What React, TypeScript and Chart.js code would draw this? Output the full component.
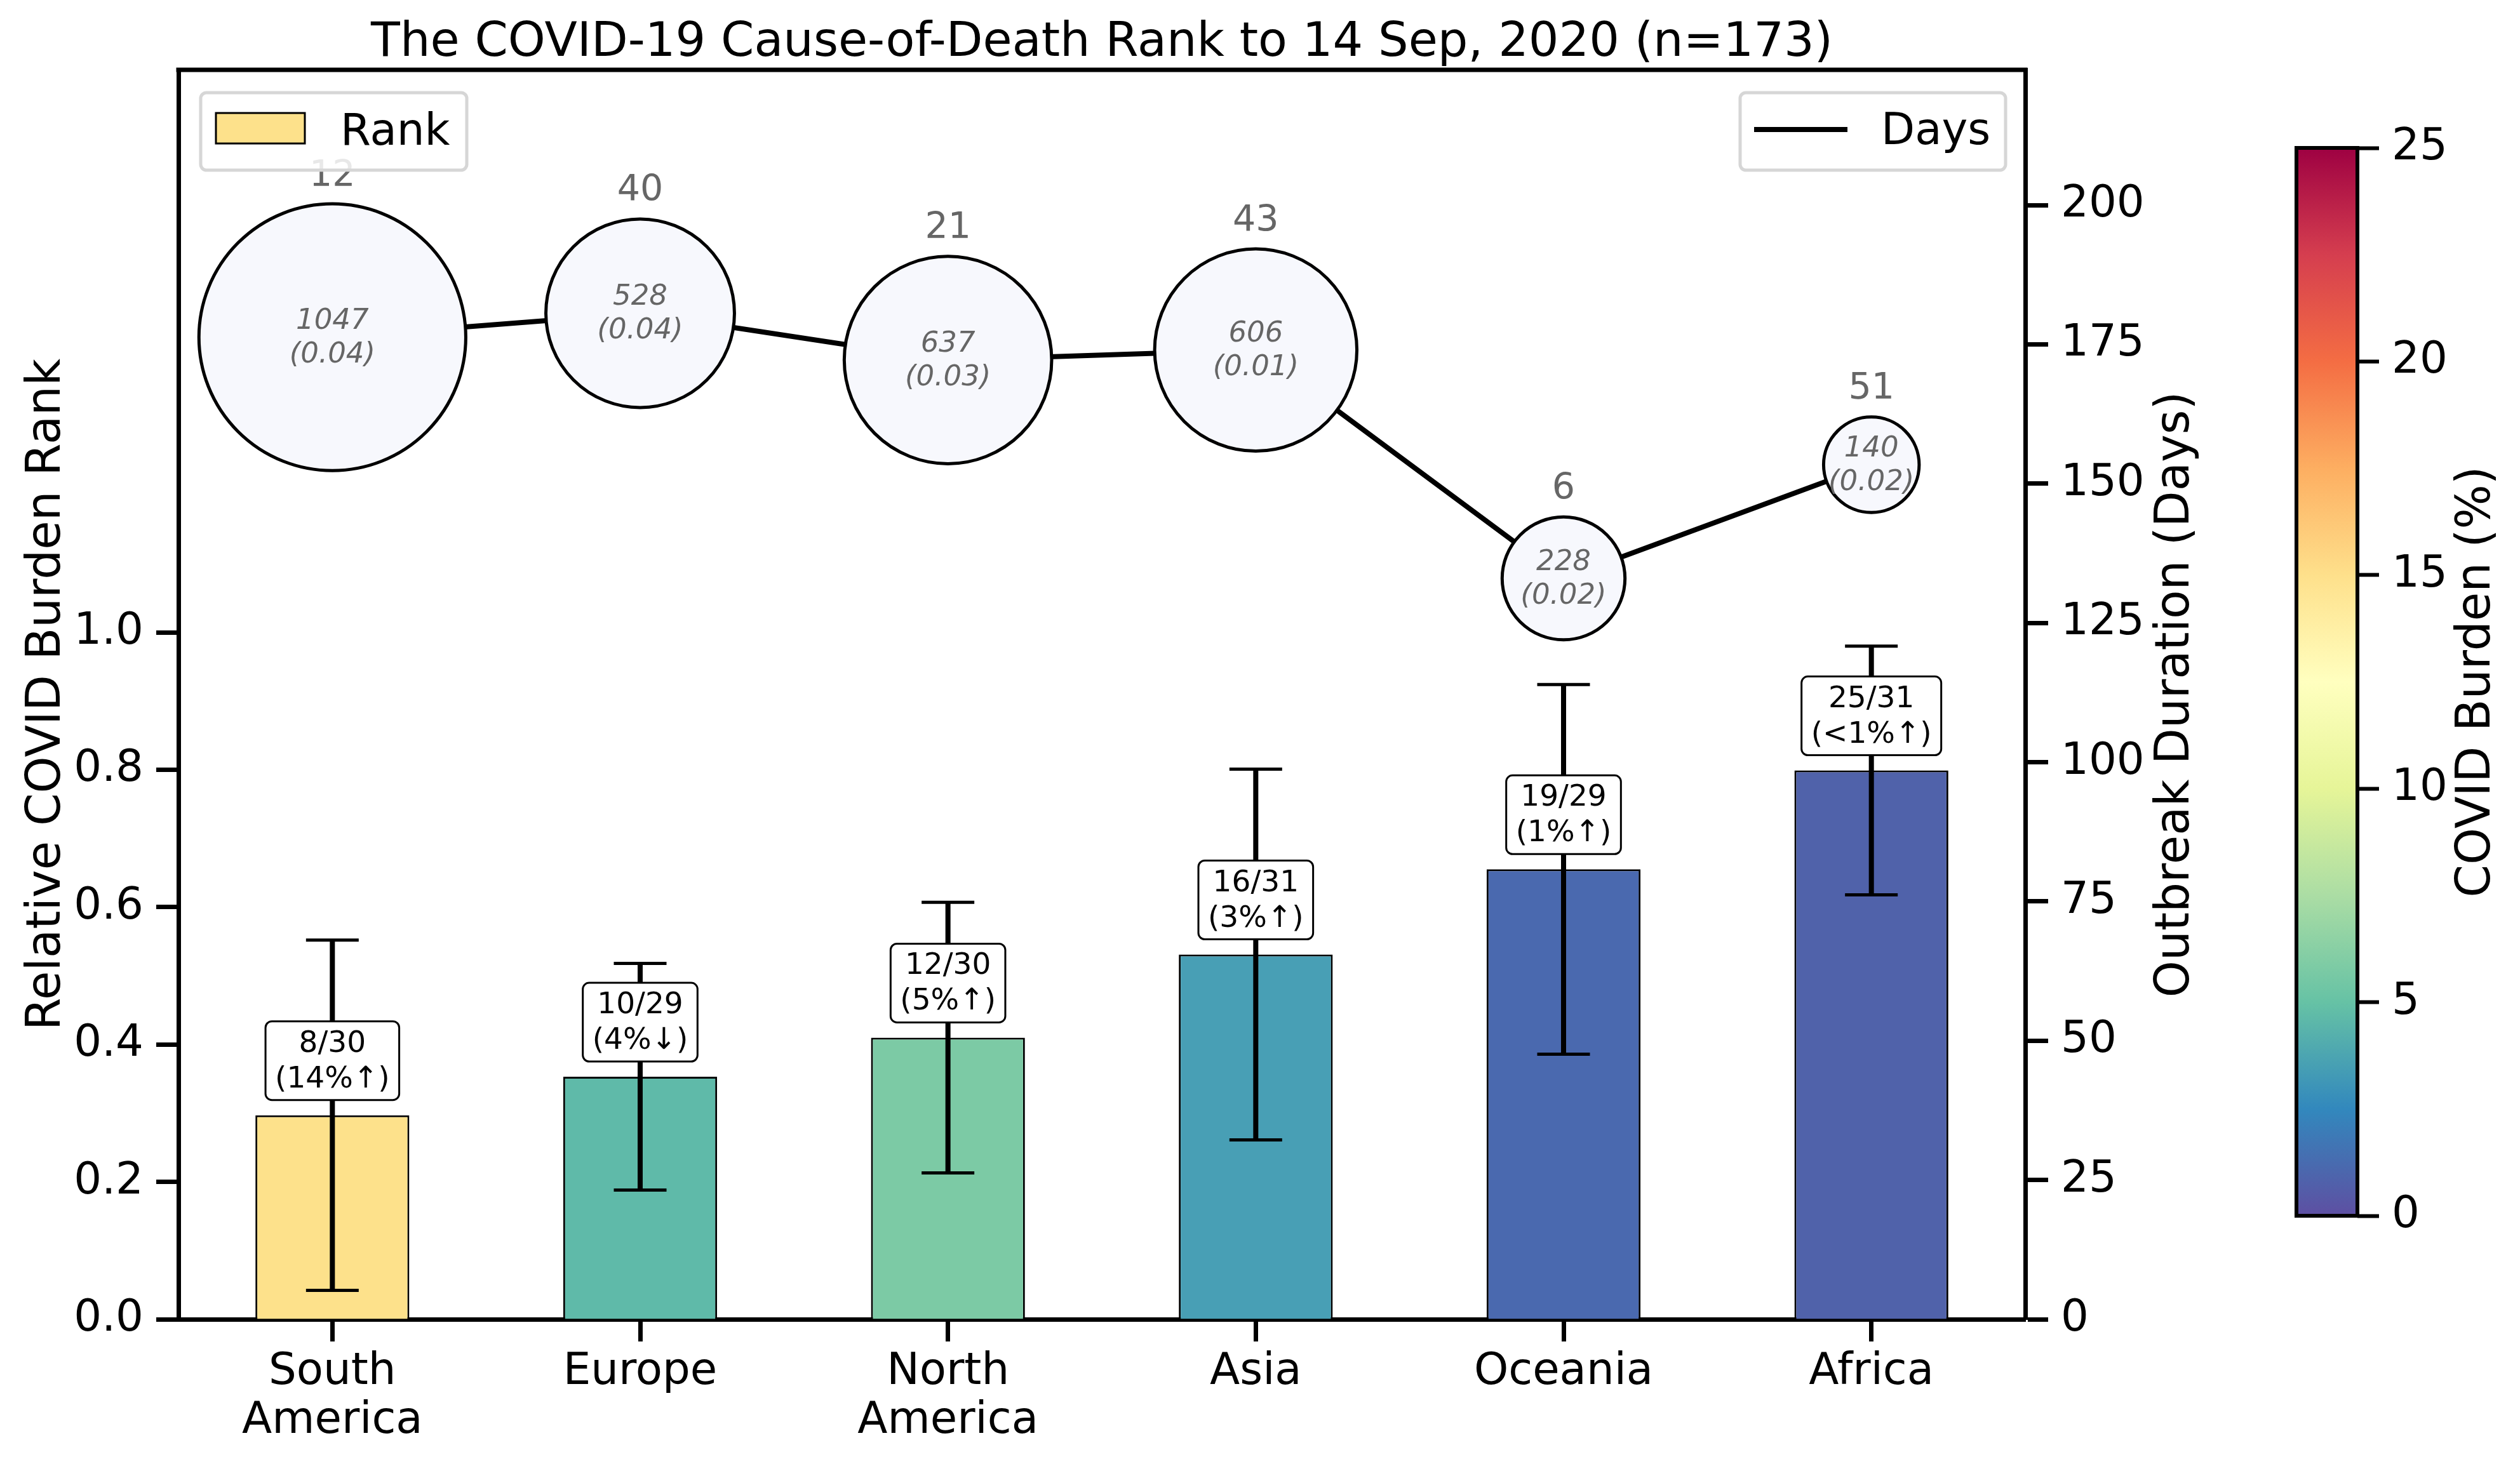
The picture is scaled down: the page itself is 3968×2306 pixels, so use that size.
import { useEffect, useRef } from 'react';
import { Chart, registerables } from 'chart.js';

Chart.register(...registerables);

const FONT = "'DejaVu Sans', sans-serif";
Chart.defaults.font.family = FONT;

// chart data
const chartTitle = 'The COVID-19 Cause-of-Death Rank to 14 Sep, 2020 (n=173)';
const regions = [['South', 'America'], 'Europe', ['North', 'America'], 'Asia', 'Oceania', 'Africa'];
const relativeRank = [0.297, 0.353, 0.41, 0.531, 0.655, 0.799];
const rankError = [0.255, 0.165, 0.197, 0.27, 0.269, 0.181];
const rankText = ['8/30', '10/29', '12/30', '16/31', '19/29', '25/31'];
const burdenChange = ['(14%↑)', '(4%↓)', '(5%↑)', '(3%↑)', '(1%↑)', '(<1%↑)'];
const barColors = ['#fde18b', '#5fbaa9', '#7ccaa5', '#489fb5', '#4a69af', '#5062aa'];
const outbreakDays = [176.3, 180.6, 172.2, 174.0, 133.0, 153.4];
const rankAbove = [12, 40, 21, 43, 6, 51];
const covidDeaths = [1047, 528, 637, 606, 228, 140];
const deathShare = ['0.04', '0.04', '0.03', '0.01', '0.02', '0.02'];
const rankTicks = [0, 0.2, 0.4, 0.6, 0.8, 1.0];
const dayTicks = [0, 25, 50, 75, 100, 125, 150, 175, 200];
const burdenTicks = [0, 5, 10, 15, 20, 25];
// Spectral_r, bottom (0%) to top (25%)
const spectral = ['#5e4fa2', '#3288bd', '#66c2a5', '#abdda4', '#e6f598', '#ffffbf', '#fee08b', '#fdae61', '#f46d43', '#d53e4f', '#9e0142'];

const MAIN_W = 3560;
const CB_LEFT = 3480;
const CB_W = 3968 - CB_LEFT;
const H = 2306;

const bubbleOuter = (v: number) => 6.57 * Math.sqrt(v);

const axisStyle = {
  grid: { drawOnChartArea: false, drawTicks: true, tickLength: 35, tickWidth: 7, tickColor: '#000' },
  border: { display: true, color: '#000', width: 7 },
};

const mainPlugin = {
  id: 'mainExtras',
  afterDatasetsDraw(chart: any) {
    const { ctx, chartArea } = chart;
    const xs = chart.scales.x;
    const ys = chart.scales.y;
    const y1 = chart.scales.y1;
    ctx.save();

    // title
    ctx.fillStyle = '#000';
    ctx.font = `75px ${FONT}`;
    ctx.textAlign = 'center';
    ctx.textBaseline = 'alphabetic';
    ctx.fillText(chartTitle, (chartArea.left + chartArea.right) / 2, 88);

    // top spine
    ctx.strokeStyle = '#000';
    ctx.lineWidth = 7;
    ctx.beginPath();
    ctx.moveTo(chartArea.left - 3.5, chartArea.top);
    ctx.lineTo(chartArea.right + 3.5, chartArea.top);
    ctx.stroke();

    // error bars
    relativeRank.forEach((v, i) => {
      const x = xs.getPixelForValue(i);
      const hi = ys.getPixelForValue(v + rankError[i]);
      const lo = ys.getPixelForValue(v - rankError[i]);
      ctx.lineWidth = 8;
      ctx.beginPath();
      ctx.moveTo(x, hi);
      ctx.lineTo(x, lo);
      ctx.stroke();
      ctx.lineWidth = 5;
      ctx.beginPath();
      ctx.moveTo(x - 41.5, hi);
      ctx.lineTo(x + 41.5, hi);
      ctx.moveTo(x - 41.5, lo);
      ctx.lineTo(x + 41.5, lo);
      ctx.stroke();
    });

    // rank label boxes
    ctx.font = `47px ${FONT}`;
    relativeRank.forEach((v, i) => {
      const x = xs.getPixelForValue(i);
      const bottom = ys.getPixelForValue(v) - 24;
      const w = Math.max(ctx.measureText(rankText[i]).width, ctx.measureText(burdenChange[i]).width) + 30;
      const h = 124;
      ctx.beginPath();
      ctx.roundRect(x - w / 2, bottom - h, w, h, 10);
      ctx.fillStyle = '#fff';
      ctx.fill();
      ctx.lineWidth = 3;
      ctx.strokeStyle = '#000';
      ctx.stroke();
      ctx.fillStyle = '#000';
      ctx.fillText(rankText[i], x, bottom - 76);
      ctx.fillText(burdenChange[i], x, bottom - 20);
    });

    // bubble annotations
    outbreakDays.forEach((d, i) => {
      const x = xs.getPixelForValue(i);
      const cy = y1.getPixelForValue(d);
      const r = bubbleOuter(covidDeaths[i]);
      ctx.fillStyle = '#666';
      ctx.font = `57px ${FONT}`;
      ctx.fillText(String(rankAbove[i]), x, cy - r - 26);
      ctx.font = `italic 45px ${FONT}`;
      ctx.fillText(String(covidDeaths[i]), x, cy - 13);
      ctx.fillText(`(${deathShare[i]})`, x, cy + 40);
    });

    // legends
    const legendBox = (x: number, y: number, w: number, h: number) => {
      ctx.beginPath();
      ctx.roundRect(x, y, w, h, 9);
      ctx.fillStyle = 'rgba(255,255,255,0.85)';
      ctx.fill();
      ctx.strokeStyle = '#d6d6d6';
      ctx.lineWidth = 5;
      ctx.stroke();
    };
    ctx.font = `69px ${FONT}`;
    ctx.textAlign = 'left';
    const lt = chartArea.top + 36;
    legendBox(chartArea.left + 35, lt, 419, 122);
    ctx.fillStyle = barColors[0];
    ctx.fillRect(chartArea.left + 59, lt + 32, 140, 48);
    ctx.strokeStyle = '#000';
    ctx.lineWidth = 3;
    ctx.strokeRect(chartArea.left + 59, lt + 32, 140, 48);
    ctx.fillStyle = '#000';
    ctx.fillText('Rank', chartArea.left + 255, lt + 82);

    legendBox(chartArea.right - 449, lt, 418, 122);
    ctx.strokeStyle = '#000';
    ctx.lineWidth = 8;
    ctx.beginPath();
    ctx.moveTo(chartArea.right - 427, lt + 58);
    ctx.lineTo(chartArea.right - 280, lt + 58);
    ctx.stroke();
    ctx.fillStyle = '#000';
    ctx.fillText('Days', chartArea.right - 227, lt + 81);

    // axis titles (both read bottom to top, as in the reference)
    ctx.font = `74px ${FONT}`;
    ctx.textAlign = 'center';
    const midY = (chartArea.top + chartArea.bottom) / 2;
    const vText = (t: string, x: number) => {
      ctx.save();
      ctx.translate(x, midY);
      ctx.rotate(-Math.PI / 2);
      ctx.fillText(t, 0, 0);
      ctx.restore();
    };
    vText('Relative COVID Burden Rank', 94);
    vText('Outbreak Duration (Days)', 3446);
    ctx.restore();
  },
};

const colorbarPlugin = {
  id: 'colorbarExtras',
  afterDatasetsDraw(chart: any) {
    const { ctx, chartArea } = chart;
    ctx.save();
    ctx.strokeStyle = '#000';
    ctx.lineWidth = 6;
    ctx.strokeRect(chartArea.left, chartArea.top, chartArea.right - chartArea.left, chartArea.bottom - chartArea.top);
    ctx.fillStyle = '#000';
    ctx.font = `74px ${FONT}`;
    ctx.textAlign = 'center';
    ctx.translate(440, (chartArea.top + chartArea.bottom) / 2);
    ctx.rotate(-Math.PI / 2);
    ctx.fillText('COVID Burden (%)', 0, 0);
    ctx.restore();
  },
};

function CovidRankChart() {
  const mainRef = useRef<HTMLCanvasElement>(null);
  const cbRef = useRef<HTMLCanvasElement>(null);

  useEffect(() => {
    if (!mainRef.current || !cbRef.current) return;

    const main = new Chart(mainRef.current, {
      type: 'bar',
      data: {
        labels: regions,
        datasets: [
          {
            type: 'line',
            label: 'Days',
            data: outbreakDays,
            yAxisID: 'y1',
            borderColor: '#000',
            borderWidth: 8,
            tension: 0,
            clip: false,
            pointRadius: covidDeaths.map((v) => bubbleOuter(v) - 2.5),
            pointBackgroundColor: '#f7f8fd',
            pointBorderColor: '#000',
            pointBorderWidth: 5,
            order: 0,
          } as any,
          {
            type: 'bar',
            label: 'Rank',
            data: relativeRank,
            yAxisID: 'y',
            backgroundColor: barColors,
            borderColor: '#000',
            borderWidth: 3,
            barPercentage: 0.5,
            categoryPercentage: 1,
            order: 1,
          },
        ],
      },
      options: {
        animation: false,
        responsive: false,
        devicePixelRatio: 1,
        events: [],
        layout: { autoPadding: false, padding: { top: 110, left: 0, right: 0, bottom: 0 } },
        plugins: {
          legend: { display: false },
          tooltip: { enabled: false },
          title: { display: false },
        },
        scales: {
          x: {
            offset: true,
            grid: { ...axisStyle.grid, offset: false },
            border: axisStyle.border,
            ticks: { color: '#000', font: { size: 69, lineHeight: 1.12 }, padding: 10, maxRotation: 0, autoSkip: false },
            afterFit: (s: any) => { s.height = 228; },
          },
          y: {
            position: 'left',
            min: 0,
            max: 1.819,
            grid: axisStyle.grid,
            border: axisStyle.border,
            afterBuildTicks: (s: any) => { s.ticks = rankTicks.map((value) => ({ value })); },
            ticks: { color: '#000', font: { size: 69 }, padding: 20, callback: (v: any) => Number(v).toFixed(1) },
            afterFit: (s: any) => { s.width = 281; },
          },
          y1: {
            position: 'right',
            min: 0,
            max: 224.3,
            grid: { ...axisStyle.grid, tickLength: 36 },
            border: axisStyle.border,
            afterBuildTicks: (s: any) => { s.ticks = dayTicks.map((value) => ({ value })); },
            ticks: { color: '#000', font: { size: 69 }, padding: 20 },
            afterFit: (s: any) => { s.width = MAIN_W - 3189; },
          },
        },
      },
      plugins: [mainPlugin],
    });

    const colorbar = new Chart(cbRef.current, {
      type: 'bar',
      data: {
        labels: [''],
        datasets: [
          {
            data: [burdenTicks[burdenTicks.length - 1]],
            borderWidth: 0,
            barPercentage: 1,
            categoryPercentage: 1,
            backgroundColor: (c: any) => {
              const area = c.chart.chartArea;
              if (!area) return spectral[0];
              const g = c.chart.ctx.createLinearGradient(0, area.bottom, 0, area.top);
              spectral.forEach((col, i) => g.addColorStop(i / (spectral.length - 1), col));
              return g;
            },
          },
        ],
      },
      options: {
        animation: false,
        responsive: false,
        devicePixelRatio: 1,
        events: [],
        layout: { autoPadding: false, padding: { left: 136, top: 233, bottom: H - 1915, right: 0 } },
        plugins: { legend: { display: false }, tooltip: { enabled: false } },
        scales: {
          x: { display: false },
          y: {
            position: 'right',
            min: 0,
            max: 25,
            grid: { drawOnChartArea: false, drawTicks: true, tickLength: 34, tickWidth: 6, tickColor: '#000' },
            border: { display: false },
            afterBuildTicks: (s: any) => { s.ticks = burdenTicks.map((value) => ({ value })); },
            ticks: { color: '#000', font: { size: 69 }, padding: 20 },
            afterFit: (s: any) => { s.width = CB_W - 232; },
          },
        },
      },
      plugins: [colorbarPlugin],
    });

    return () => {
      main.destroy();
      colorbar.destroy();
    };
  }, []);

  return (
    <div style={{ position: 'fixed', left: 0, top: 0, width: 3968, height: H, background: '#fff' }}>
      <canvas ref={mainRef} width={MAIN_W} height={H} style={{ position: 'absolute', left: 0, top: 0 }} />
      <canvas ref={cbRef} width={CB_W} height={H} style={{ position: 'absolute', left: CB_LEFT, top: 0 }} />
    </div>
  );
}

export default function App() {
  return <CovidRankChart />;
}
